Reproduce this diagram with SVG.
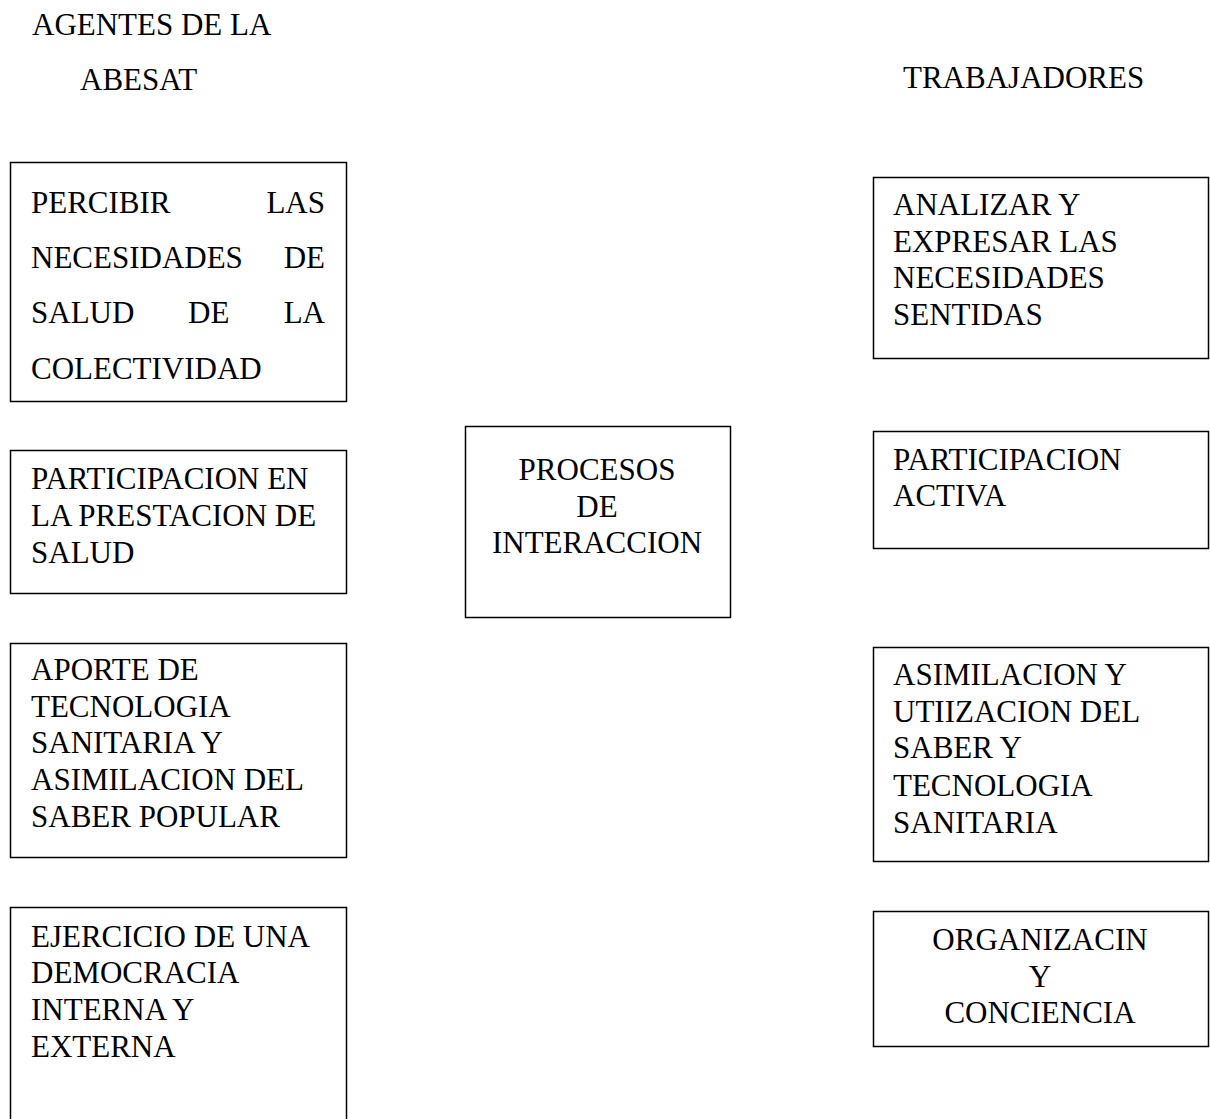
<svg xmlns="http://www.w3.org/2000/svg" width="1210" height="1119" viewBox="0 0 1210 1119">
<style>
text{font-family:"Liberation Serif","Times New Roman",serif;font-size:31px;fill:#000}
.box{fill:#fff;stroke:#000;stroke-width:1.5}
.c{text-anchor:middle}
.e{text-anchor:end}
</style>
<rect width="1210" height="1119" fill="#fff"/>
<g id="headers">
<text x="32" y="35">AGENTES DE LA</text>
<text x="80" y="90">ABESAT</text>
<text x="903" y="88">TRABAJADORES</text>
</g>
<g id="connectors"></g>
<g id="n-percibir">
<rect class="box" x="10.5" y="162.5" width="336" height="239"/>
<text x="31" y="213">PERCIBIR</text><text class="e" x="325" y="213">LAS</text>
<text x="31" y="268">NECESIDADES</text><text class="e" x="325" y="268">DE</text>
<text x="31" y="323">SALUD</text><text x="188" y="323">DE</text><text class="e" x="325" y="323">LA</text>
<text x="31" y="379">COLECTIVIDAD</text>
</g>
<g id="n-participacion-prestacion">
<rect class="box" x="10.5" y="450.5" width="336" height="143"/>
<text x="31" y="489">PARTICIPACION EN</text>
<text x="31" y="526">LA PRESTACION DE</text>
<text x="31" y="563">SALUD</text>
</g>
<g id="n-aporte">
<rect class="box" x="10.5" y="643.5" width="336" height="214"/>
<text x="31" y="680">APORTE DE</text>
<text x="31" y="717">TECNOLOGIA</text>
<text x="31" y="753">SANITARIA Y</text>
<text x="31" y="790">ASIMILACION DEL</text>
<text x="31" y="827">SABER POPULAR</text>
</g>
<g id="n-ejercicio">
<rect class="box" x="10.5" y="907.5" width="336" height="220"/>
<text x="31" y="947">EJERCICIO DE UNA</text>
<text x="31" y="983">DEMOCRACIA</text>
<text x="31" y="1020">INTERNA Y</text>
<text x="31" y="1057">EXTERNA</text>
</g>
<g id="n-procesos">
<rect class="box" x="465.5" y="426.5" width="265" height="191"/>
<text class="c" x="597" y="480">PROCESOS</text>
<text class="c" x="597" y="517">DE</text>
<text class="c" x="597" y="553">INTERACCION</text>
</g>
<g id="n-analizar">
<rect class="box" x="873.5" y="177.5" width="335" height="181"/>
<text x="893" y="215">ANALIZAR Y</text>
<text x="893" y="252">EXPRESAR LAS</text>
<text x="893" y="288">NECESIDADES</text>
<text x="893" y="325">SENTIDAS</text>
</g>
<g id="n-participacion-activa">
<rect class="box" x="873.5" y="431.5" width="335" height="117"/>
<text x="893" y="470">PARTICIPACION</text>
<text x="893" y="506">ACTIVA</text>
</g>
<g id="n-asimilacion">
<rect class="box" x="873.5" y="647.5" width="335" height="214"/>
<text x="893" y="685">ASIMILACION Y</text>
<text x="893" y="722">UTIIZACION DEL</text>
<text x="893" y="758">SABER Y</text>
<text x="893" y="796">TECNOLOGIA</text>
<text x="893" y="833">SANITARIA</text>
</g>
<g id="n-organizacion">
<rect class="box" x="873.5" y="911.5" width="335" height="135"/>
<text class="c" x="1040" y="950">ORGANIZACIN</text>
<text class="c" x="1040" y="987">Y</text>
<text class="c" x="1040" y="1023">CONCIENCIA</text>
</g>
</svg>
